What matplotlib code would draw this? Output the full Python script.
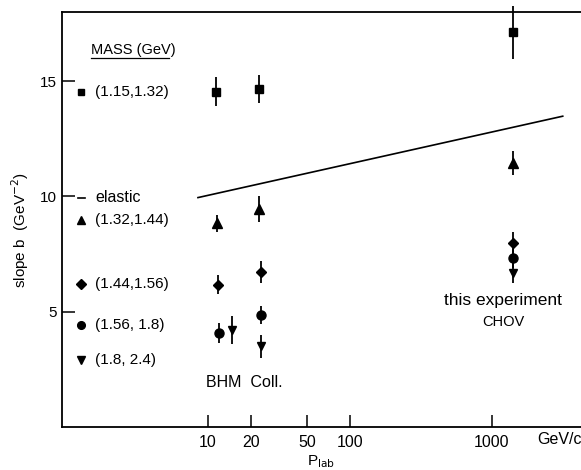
import numpy as np
import matplotlib
matplotlib.use("Agg")
import matplotlib.pyplot as plt

plt.rcParams["font.family"] = ["Liberation Sans", "DejaVu Sans"]

# ── Data ───────────────────────────────────────────────────────
sq_x   = [11.3, 22.8, 1400]
sq_y   = [14.55, 14.65, 17.12]
sq_err = [0.62, 0.60, 1.15]

tu_x   = [11.6, 23.0, 1400]
tu_y   = [8.83, 9.45, 11.45]
tu_err = [0.36, 0.55, 0.50]

di_x   = [11.8, 23.5, 1400]
di_y   = [6.18, 6.73, 7.96]
di_err = [0.43, 0.47, 0.50]

ci_x   = [12.0, 23.5, 1400]
ci_y   = [4.06, 4.86, 7.31]
ci_err = [0.43, 0.40, 0.40]

td_x   = [14.7, 23.5, 1400]
td_y   = [4.20, 3.50, 6.69]
td_err = [0.60, 0.50, 0.45]

elastic_x = [8.5, 3150]
elastic_y = [9.95, 13.48]

xticks = [10, 20, 50, 100, 1000]
yticks = [5, 10, 15]

legend_labels = ["(1.15,1.32)", "(1.32,1.44)", "(1.44,1.56)", "(1.56, 1.8)", "(1.8, 2.4)"]
legend_y      = [14.54, 8.97, 6.2, 4.42, 2.91]
markers       = ["s", "^", "D", "o", "v"]
msizes        = [5.5, 6.5, 5.5, 6.5, 6.0]

# ── Canvas ─────────────────────────────────────────────────────
fig = plt.figure(figsize=(5.81, 4.70), dpi=100)
ax = fig.add_axes([0.1067, 0.0915, 0.8933, 0.883])
ax.set_xscale("log")
ax.set_xlim(0.937, 4236)
ax.set_ylim(0, 18)

series = [(sq_x, sq_y, sq_err), (tu_x, tu_y, tu_err), (di_x, di_y, di_err),
          (ci_x, ci_y, ci_err), (td_x, td_y, td_err)]
for (xs, ys, es), m, ms in zip(series, markers, msizes):
    ax.errorbar(xs, ys, yerr=es, fmt=m, color="black", ms=ms,
                elinewidth=1.3, capsize=0, clip_on=False, zorder=3)

ax.plot(elastic_x, elastic_y, color="black", lw=1.2)

# legend drawn by hand inside the axes
for yy, lab, m, ms in zip(legend_y, legend_labels, markers, msizes):
    ax.plot([1.28], [yy], marker=m, color="black", ms=ms * 0.85, ls="none")
    ax.text(1.6, yy, lab, fontsize=11, va="center", ha="left")
ax.plot([1.21, 1.36], [9.94, 9.94], color="black", lw=1.2)
ax.text(1.62, 9.94, "elastic", fontsize=11.5, va="center", ha="left")
ax.text(1.5, 16.33, "MASS (GeV)", fontsize=10.5, va="center", ha="left")
ax.plot([1.5, 5.3], [16.0, 16.0], color="black", lw=0.9)

ax.text(18.1, 1.93, "BHM  Coll.", fontsize=11.5, ha="center", va="center")
ax.text(1195, 5.5, "this experiment", fontsize=12.5, ha="center", va="center")
ax.text(1195, 4.57, "CHOV", fontsize=10.5, ha="center", va="center")

# ── Axes styling ───────────────────────────────────────────────
ax.spines["right"].set_visible(False)
for s in ["left", "bottom", "top"]:
    ax.spines[s].set_linewidth(1.3)
ax.set_xticks(xticks)
ax.set_xticklabels([str(t) for t in xticks])
ax.xaxis.set_minor_locator(matplotlib.ticker.NullLocator())
ax.set_yticks(yticks)
ax.tick_params(direction="in", length=9, width=1.1, labelsize=11, pad=4)
ax.tick_params(axis="x", pad=6, labelsize=11.5)
ax.text(3000, -0.56, "GeV/c", fontsize=11.5, ha="center", va="center")

ax.set_xlabel(r"P$_{\mathrm{lab}}$", fontsize=11, labelpad=2)
ax.set_ylabel(r"slope b  (GeV$^{-2}$)", fontsize=11)
ax.yaxis.set_label_coords(-0.06, 0.475)

fig.savefig("out.png", dpi=100)
